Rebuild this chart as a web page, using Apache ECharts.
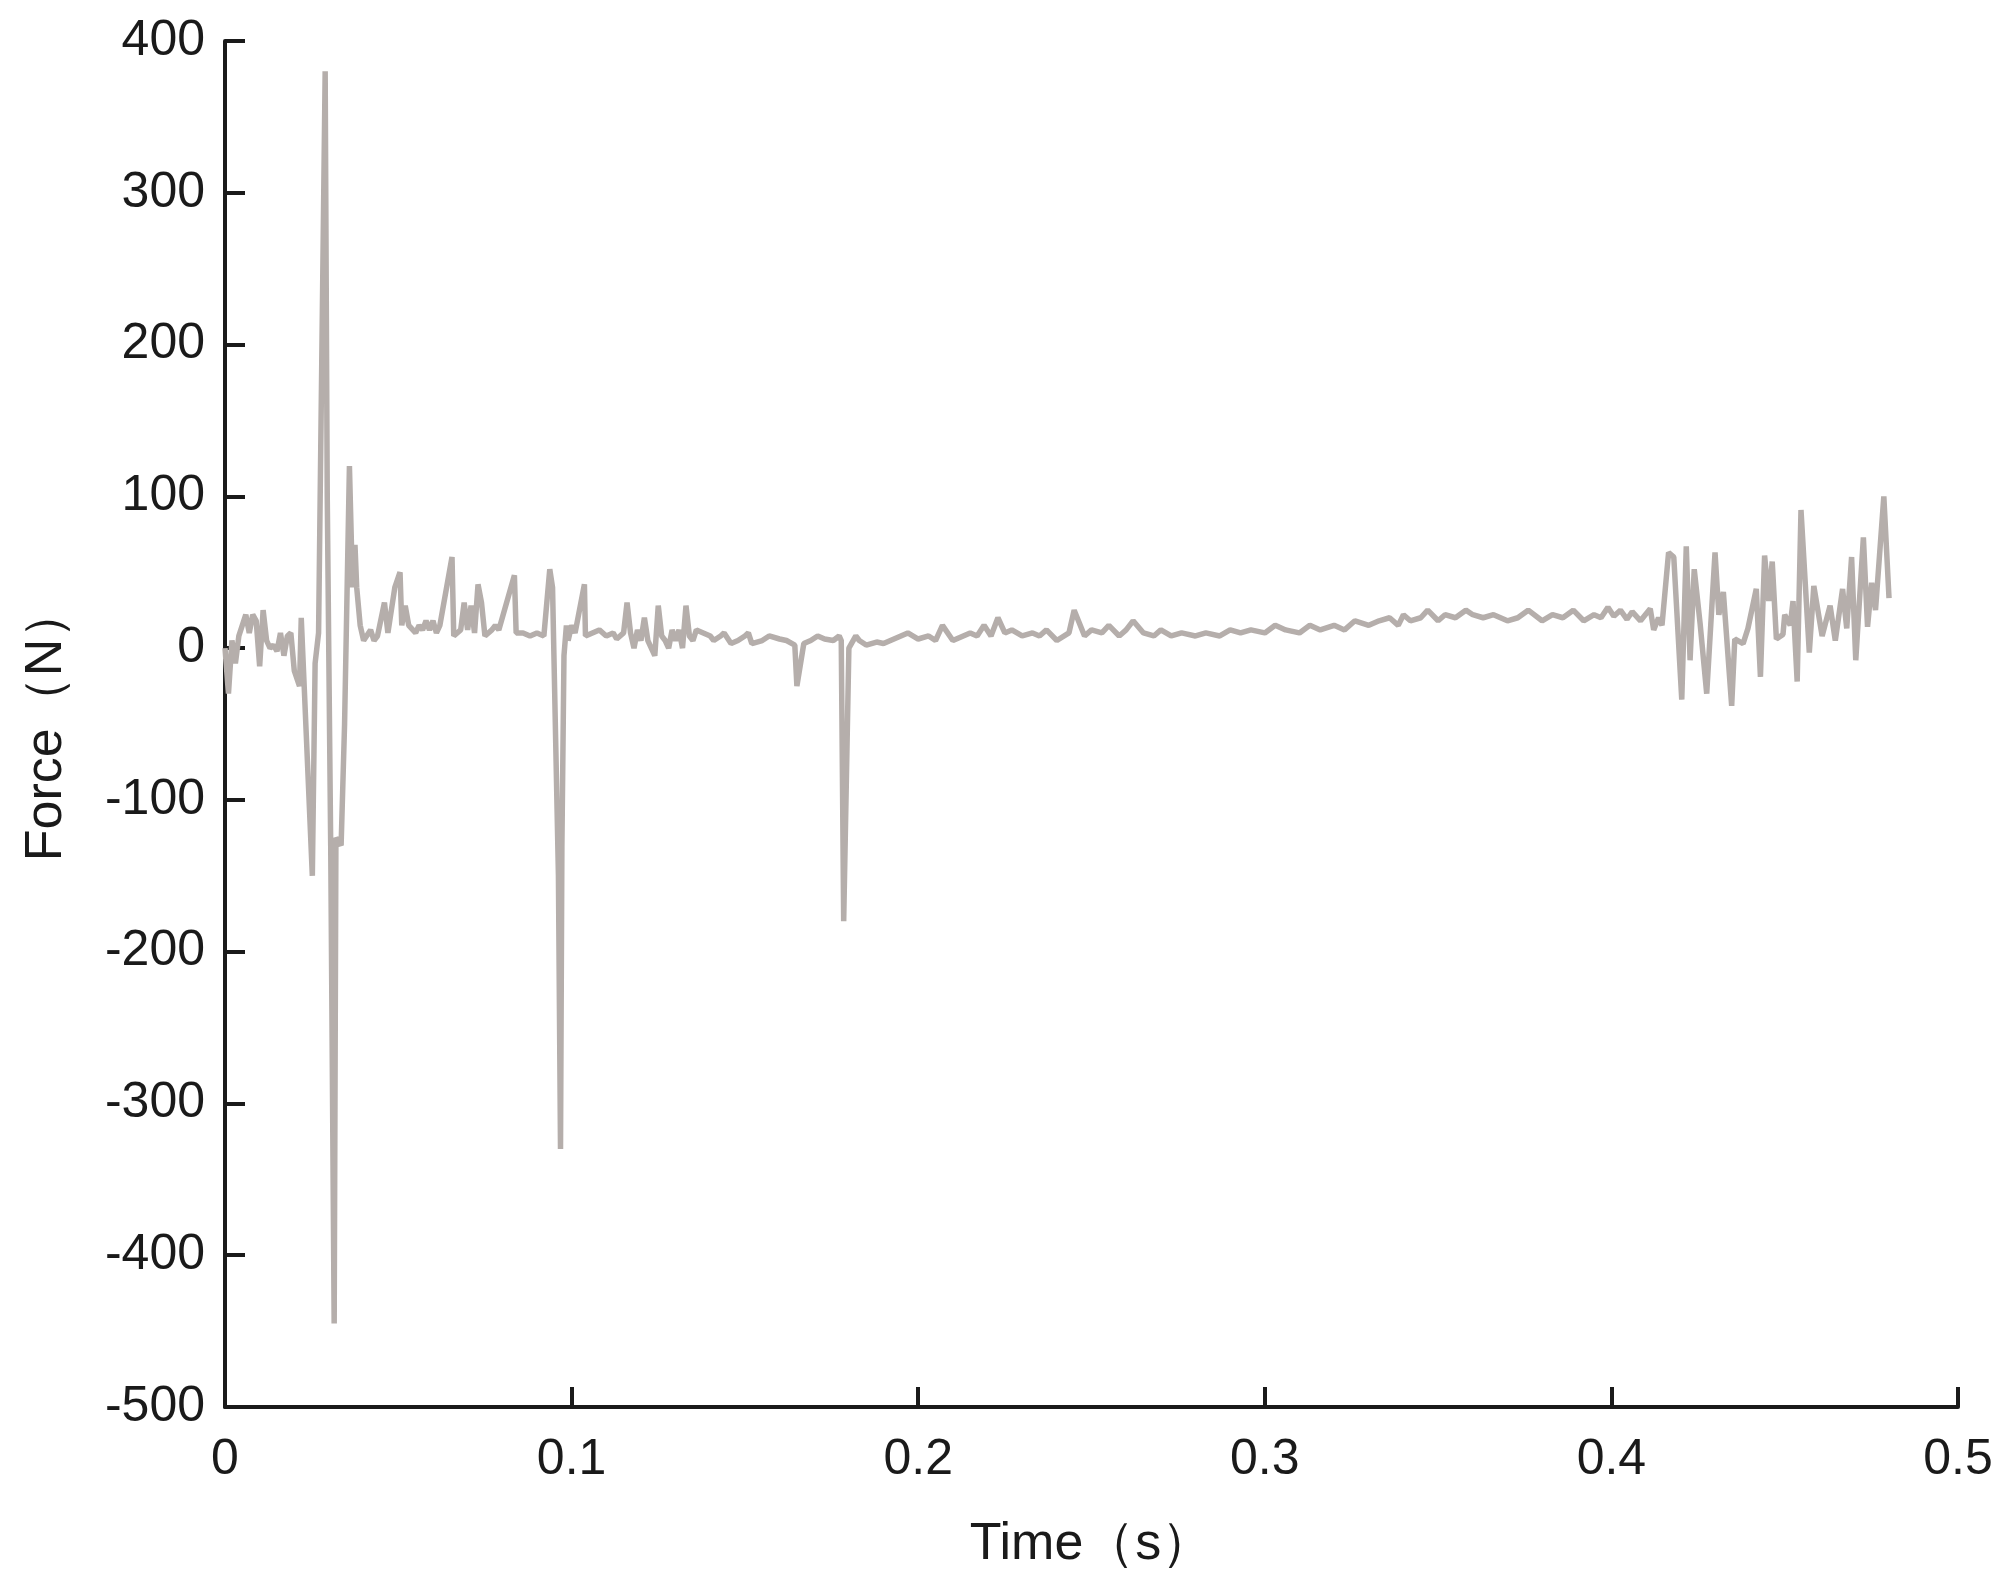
<!DOCTYPE html>
<html>
<head>
<meta charset="utf-8">
<script src="https://cdn.jsdelivr.net/npm/echarts@6/dist/echarts.min.js"></script>
<style>html,body{margin:0;padding:0;background:#fff}#main{width:2013px;height:1590px}</style>
</head>
<body>
<div id="main"></div>
<script>
// time (s)
var times = [0,0.001,0.002,0.003,0.004,0.006,0.007,0.008,0.009,0.010,0.011,0.012,0.013,0.014,0.015,0.016,0.017,0.018,0.019,0.020,0.0215,0.022,0.0252,0.026,0.027,0.0289,0.0295,0.0305,0.0315,0.032,0.0335,0.0345,0.0359,0.0368,0.0375,0.038,0.039,0.040,0.042,0.043,0.044,0.046,0.047,0.049,0.0505,0.051,0.052,0.053,0.055,0.056,0.057,0.058,0.059,0.060,0.061,0.062,0.0655,0.066,0.068,0.069,0.070,0.071,0.072,0.073,0.074,0.075,0.077,0.078,0.079,0.0835,0.084,0.086,0.088,0.090,0.092,0.0937,0.0945,0.0962,0.0968,0.0972,0.0978,0.0985,0.099,0.100,0.101,0.1037,0.104,0.106,0.108,0.110,0.112,0.113,0.115,0.116,0.117,0.118,0.119,0.120,0.121,0.122,0.124,0.125,0.126,0.127,0.128,0.129,0.130,0.131,0.132,0.133,0.134,0.135,0.136,0.138,0.140,0.141,0.143,0.144,0.146,0.148,0.150,0.151,0.152,0.155,0.157,0.160,0.162,0.1644,0.165,0.167,0.169,0.171,0.173,0.1755,0.1772,0.1778,0.1785,0.180,0.182,0.183,0.185,0.188,0.190,0.192,0.195,0.197,0.200,0.203,0.205,0.207,0.210,0.213,0.215,0.217,0.219,0.221,0.223,0.225,0.227,0.230,0.233,0.235,0.237,0.240,0.2435,0.245,0.248,0.250,0.253,0.255,0.258,0.260,0.262,0.265,0.268,0.270,0.273,0.276,0.280,0.283,0.287,0.290,0.293,0.296,0.300,0.303,0.306,0.310,0.313,0.316,0.320,0.323,0.326,0.330,0.333,0.336,0.3385,0.340,0.342,0.345,0.347,0.350,0.352,0.355,0.358,0.360,0.363,0.366,0.370,0.373,0.376,0.380,0.383,0.386,0.389,0.392,0.395,0.397,0.399,0.4007,0.4026,0.4045,0.406,0.4084,0.4112,0.4122,0.4136,0.4146,0.4165,0.418,0.4203,0.4216,0.4227,0.4239,0.4256,0.4275,0.4299,0.431,0.4323,0.4347,0.4356,0.438,0.4394,0.4418,0.443,0.4442,0.4454,0.4464,0.4476,0.4495,0.45,0.4516,0.4524,0.4536,0.4547,0.4571,0.4584,0.4608,0.4631,0.4646,0.4667,0.4679,0.4693,0.4705,0.4727,0.4739,0.4751,0.4762,0.4786,0.4801];
// force (N)
var forces = [0,-30,5,-10,8,22,10,22,18,-12,25,5,0,2,-2,10,-5,8,10,-15,-25,20,-150,-10,10,380,100,-130,-445,-125,-130,-50,120,40,68,40,15,5,12,5,8,30,10,40,50,15,28,15,10,15,12,18,12,18,10,15,60,8,12,30,12,28,10,42,30,8,12,15,12,48,10,10,8,10,8,52,40,-150,-330,-130,-5,15,5,15,10,42,8,10,12,8,10,6,10,30,10,0,12,5,20,5,-5,28,8,5,0,12,5,12,0,28,8,5,12,10,8,5,8,10,3,5,8,10,3,5,8,6,5,2,-25,3,5,8,6,5,8,5,-180,0,8,5,2,4,3,5,8,10,6,8,5,15,5,8,10,8,15,8,20,10,12,8,10,8,12,5,10,25,8,12,10,15,8,12,18,10,8,12,8,10,8,10,8,12,10,12,10,15,12,10,15,12,15,12,18,15,18,20,15,22,18,20,25,18,22,20,25,22,20,22,18,20,25,18,22,20,25,18,22,20,27,21,25,19,24,18,26,12,20,15,63,60,-34,67,-8,52,16,-30,63,22,37,-38,6,3,13,39,-19,61,31,57,6,9,22,15,31,-22,91,-3,41,8,28,5,39,13,60,-8,73,14,43,25,100,33];

var chartDom = document.getElementById('main');
var myChart = echarts.init(chartDom);
var option;
var txt = '#1a1a1a';
var font = 'Arial, "Liberation Sans", sans-serif';

option = {
    animation: false,
    grid: { left: 225, right: 55, top: 41, bottom: 183 },
    xAxis: {
        type: 'value', min: 0, max: 0.5, interval: 0.1,
        name: 'Time（s）', nameLocation: 'middle', nameGap: 112,
        nameTextStyle: { fontSize: 52, color: txt, fontFamily: font },
        axisLine: { onZero: false, lineStyle: { color: txt, width: 4 } },
        axisTick: { inside: true, length: 20, lineStyle: { color: txt, width: 4 } },
        axisLabel: { fontSize: 50, color: txt, fontFamily: font, margin: 28,
            formatter: v => v === 0 ? '0' : String(Math.round(v * 10) / 10) },
        splitLine: { show: false }
    },
    yAxis: {
        type: 'value', min: -500, max: 400, interval: 100,
        name: 'Force（N）', nameLocation: 'middle', nameGap: 152,
        nameTextStyle: { fontSize: 52, color: txt, fontFamily: font },
        axisLine: { lineStyle: { color: txt, width: 4 } },
        axisTick: { inside: true, length: 20, lineStyle: { color: txt, width: 4 } },
        axisLabel: { fontSize: 50, color: txt, fontFamily: font, margin: 20 },
        splitLine: { show: false }
    },
    series: [{
        type: 'line',
        data: times.map((t, i) => [t, forces[i]]),
        showSymbol: false,
        lineStyle: { color: '#b5aeab', width: 5.5 }
    }]
};

option && myChart.setOption(option);
</script>
</body>
</html>
